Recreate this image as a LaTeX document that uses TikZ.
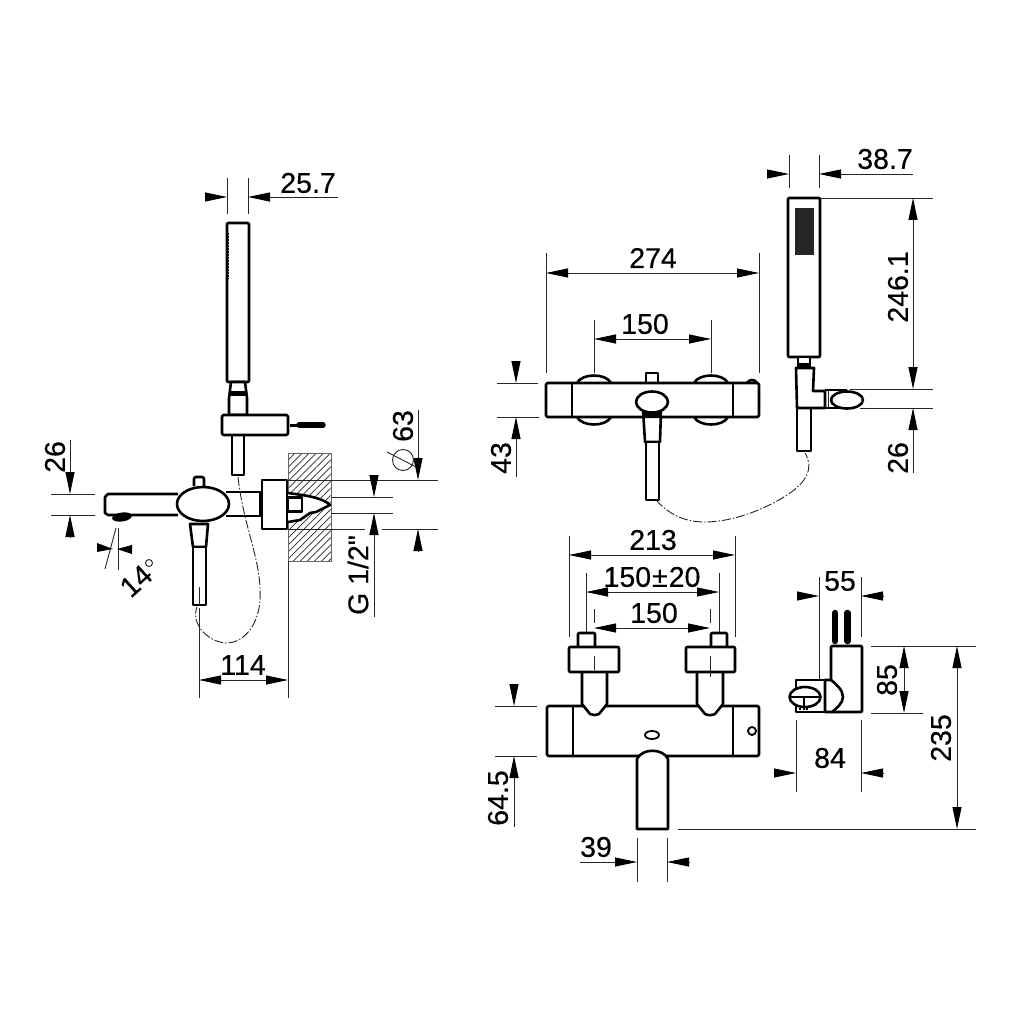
\documentclass[tikz,border=0pt]{standalone}
\usepackage{fontspec}
\setmainfont{Liberation Sans}[FakeBold=0.35,Ligatures=TeXOff]
\usetikzlibrary{arrows.meta,patterns.meta}
\tikzset{
  part/.style={draw=black,line width=2.6pt,line join=round,fill=white},
  edge/.style={draw=black,line width=2.6pt,line join=round},
  thinline/.style={draw=black!85,line width=.9pt},
  dimarrow/.style={thinline,-{Triangle[length=22pt,width=9pt,fill=black,color=black]}},
  hose/.style={draw=black!85,line width=.9pt,dash pattern=on 9pt off 2pt on 1.5pt off 2pt},
  dimtext/.style={font=\fontsize{28.5}{28.5}\selectfont,inner sep=0pt,text=black},
  updim/.style={dimtext,rotate=90}
}
\begin{document}
\begin{tikzpicture}[x=1pt,y=-1pt]
  \useasboundingbox[fill=white] (0,0) rectangle (1024,1024);

  % side view, wall
  \path[pattern={Lines[angle=45,distance=5pt,line width=.7pt]},pattern color=black!85] (288,453) rectangle (331,561);
  \draw[thinline,draw=black!60] (288,453) rectangle (331,561);
  \draw[thinline] (288,561) -- (288,698);
  \draw[part] (288,493) -- (302,495) .. controls (315,497) and (325,500) .. (330,505) -- (316,512) -- (310,513) -- (300,520) -- (288,522);
  \draw[part] (288,497.5) rectangle (302,511.5);
  \draw[thinline] (288,480) -- (438,480);
  \draw[thinline] (331,497) -- (393,497);
  \draw[thinline] (331,513) -- (393,513);
  \draw[thinline] (288,529) -- (365,529);
  \draw[thinline] (382,529) -- (438,529);

  % side view, hand shower
  \draw[part,rounded corners=1pt] (227,223) rectangle (249,382);
  \draw[black,line width=3.5pt,dash pattern=on 1.6pt off 1.4pt] (227.5,233) -- (227.5,279);
  \draw[part] (231,382) -- (245,382) -- (247,398) -- (247,415) -- (229,415) -- (229,398) -- cycle;
  \fill (229,391) rectangle (247,396);
  \draw[part] (232,435) -- (232,475) -- (244,475) -- (244,435);
  \draw[part,rounded corners=1.5pt] (222,415) rectangle (288,435);
  \draw[black,line width=3pt] (290,425) -- (300,425);
  \draw[black,line width=5.5pt,line cap=round] (299,425) -- (323,425);

  % side view, mixer
  \draw[edge] (178,494) -- (108,494) -- (105,497) -- (105,513) -- (108,515) -- (178,515);
  \draw[edge] (226,492) -- (260,492);
  \draw[edge] (226,516) -- (260,516);
  \fill[rotate around={8:(122,517)}] (122,517) ellipse (10pt and 4.5pt);
  \fill (259,491) rectangle (263,517);
  \draw[part] (262,480) rectangle (287,529);
  \draw[part,rounded corners=2pt] (194,486) -- (194,477) -- (204,477) -- (204,486);
  \draw[part] (203,504) ellipse (26pt and 17pt);
  \draw[part] (190,524) -- (208,524) -- (206,547) -- (193,547) -- cycle;
  \draw[part] (193,547) rectangle (206,605);
  \draw[thinline] (199.5,587) -- (199.5,605);
  \draw[hose] (238,477) .. controls (244,530) and (262,560) .. (260,600) .. controls (258,630) and (240,643) .. (227,643) .. controls (210,643) and (190,625) .. (197,607);

  % side view, dimensions
  \draw[thinline] (227,178) -- (227,214);
  \draw[thinline] (248,178) -- (248,214);
  \draw[dimarrow] (206,197) -- (227,197);
  \draw[dimarrow] (338,197) -- (248,197);
  \node[dimtext] (sideTop) at (308,183) {25.7};
  \draw[thinline] (51,494) -- (95,494);
  \draw[thinline] (51,515) -- (95,515);
  \draw[dimarrow] (70,440) -- (70,494);
  \draw[dimarrow] (70,537) -- (70,515);
  \node[updim] (sideSpout) at (55,457) {26};
  \draw[thinline] (118,528) -- (118,570);
  \draw[thinline] (116,528) -- (105,569);
  \fill (97,543) -- (113,549) -- (97,552) -- cycle;
  \fill (132,545) -- (117,549) -- (132,554) -- cycle;
  \node[dimtext,rotate=42] (sideAngle) at (136,581) {14};
  \draw[thinline] (149,563) circle (3.5pt);
  \draw[thinline] (199,608) -- (199,698);
  \draw[dimarrow] (243,680) -- (199,680);
  \draw[dimarrow] (243,680) -- (288,680);
  \node[dimtext] (sideReach) at (243,665) {114};
  \draw[dimarrow] (374,475) -- (374,497);
  \draw[dimarrow] (374,617) -- (374,513);
  \node[updim] (sideThread) at (358,575) {G 1/2"};
  \draw[dimarrow] (418,410) -- (418,480);
  \draw[dimarrow] (418,551) -- (418,529);
  \node[updim] (sideFlange) at (403,426) {63};
  \node[circle,draw=black!85,line width=.9pt,minimum size=21pt,inner sep=0pt] (sideDia) at (403,460) {};
  \draw[thinline] (387,452) -- (416,467);

  % front view, mixer
  \draw[part] (577,383) .. controls (582,373) and (606,373) .. (611,383);
  \draw[part] (694,383) .. controls (699,373) and (723,373) .. (728,383);
  \draw[part] (577,417) .. controls (582,427) and (606,427) .. (611,417);
  \draw[part] (694,417) .. controls (699,427) and (723,427) .. (728,417);
  \draw[part] (747,383) .. controls (749,379) and (755,379) .. (757,383);
  \draw[part] (646,383) -- (646,373) -- (658,373) -- (658,383);
  \draw[part,rounded corners=1.5pt] (546,383) rectangle (759,417);
  \draw[edge] (572,383) -- (572,417);
  \draw[edge] (733,383) -- (733,417);
  \draw[part] (643,410) -- (661,410) -- (660,442) -- (645,442) -- cycle;
  \fill (643,410) -- (661,410) -- (660,418) -- (644,418) -- cycle;
  \draw[part] (646,442) rectangle (659,500);
  \draw[part] (652,402) ellipse (16pt and 10.5pt);

  % front view, hand shower
  \draw[part,rounded corners=1pt] (788,198) rectangle (820,357);
  \fill[black!85] (795,208) rectangle (814,255);
  \draw[part] (798,357) rectangle (810,368);
  \fill (798,363) rectangle (810,368);
  \draw[part] (797,408) rectangle (811,451);
  \draw[part] (796,368) -- (814,368) -- (813,391) -- (825,391) -- (825,408) -- (797,408) -- cycle;
  \draw[edge] (825,390) -- (847,390);
  \draw[edge] (825,408) -- (847,408);
  \draw[thinline] (828,391) -- (828,407);
  \draw[part] (847,400) ellipse (16pt and 8.5pt);
  \draw[hose] (656,500) .. controls (672,518) and (690,522) .. (705,522) .. controls (735,522) and (770,507) .. (790,493) .. controls (804,483) and (815,470) .. (805,453);

  % front view, dimensions
  \draw[thinline] (546,253) -- (546,373);
  \draw[thinline] (759,253) -- (759,373);
  \draw[dimarrow] (653,273) -- (546,273);
  \draw[dimarrow] (653,273) -- (759,273);
  \node[dimtext] (frontWidth) at (653,258) {274};
  \draw[thinline] (594,320) -- (594,373);
  \draw[thinline] (711,320) -- (711,373);
  \draw[dimarrow] (652,339) -- (594,339);
  \draw[dimarrow] (652,339) -- (711,339);
  \node[dimtext] (frontAxis) at (645,324) {150};
  \draw[thinline] (497,383) -- (538,383);
  \draw[thinline] (497,417) -- (539,417);
  \draw[dimarrow] (516,362) -- (516,383);
  \draw[dimarrow] (516,477) -- (516,417);
  \node[updim] (frontBody) at (501,458) {43};
  \draw[thinline] (789,155) -- (789,188);
  \draw[thinline] (819,155) -- (819,188);
  \draw[dimarrow] (767,174) -- (789,174);
  \draw[dimarrow] (913,174) -- (819,174);
  \node[dimtext] (frontHead) at (885,159) {38.7};
  \draw[thinline] (820,198) -- (933,198);
  \draw[thinline] (850,389) -- (933,389);
  \draw[thinline] (860,408) -- (933,408);
  \draw[dimarrow] (913,290) -- (913,198);
  \draw[dimarrow] (913,290) -- (913,389);
  \node[updim] (frontLength) at (898,287) {246.1};
  \draw[dimarrow] (913,473) -- (913,408);
  \node[updim] (frontKnob) at (898,458) {26};

  % top view, mixer
  \draw[part,rounded corners=1.5pt] (547,706) rectangle (759,756);
  \draw[part] (582,672) -- (582,704) -- (590,714) .. controls (593,715.5) and (596,715.5) .. (599,714) -- (607,704) -- (607,672);
  \draw[part] (697,672) -- (697,704) -- (705,714) .. controls (708,715.5) and (712,715.5) .. (715,714) -- (723,704) -- (723,672);
  \draw[part,rounded corners=1pt] (578,646) -- (578,633) -- (595,633) -- (595,646);
  \draw[part,rounded corners=1pt] (711,646) -- (711,633) -- (727,633) -- (727,646);
  \draw[part,rounded corners=1pt] (569,647) rectangle (619,672);
  \draw[part,rounded corners=1pt] (686,647) rectangle (735,672);
  \draw[edge] (573,706) -- (573,756);
  \draw[edge] (733,706) -- (733,756);
  \draw[part,line width=1.8pt] (752,731) circle (4pt);
  \draw[part,line width=1.8pt] (652,735) ellipse (7pt and 4pt);
  \draw[part] (637,759) .. controls (642,748) and (663,748) .. (668,759) -- (668,829) -- (637,829) -- cycle;
  \draw[edge] (547,756) -- (640,756);

  % top view, bracket
  \draw[black,line width=6.5pt,line cap=round] (835,613) -- (835,641);
  \draw[black,line width=6.5pt,line cap=round] (847.5,613) -- (847.5,641);
  \draw[part,rounded corners=1pt] (831,646) -- (862,646) -- (862,712) -- (831,712) -- cycle;
  \draw[part] (796,680) -- (825,680) -- (825,712) -- (796,712) -- cycle;
  \draw[part] (825,680) -- (831,680) .. controls (836,684) and (843,690) .. (843,697) .. controls (843,703) and (836,709) .. (832,712) -- (825,712) -- cycle;
  \draw[part] (805,697) ellipse (15.5pt and 10pt);
  \draw[edge,line width=1.4pt] (790,697) -- (820,697);
  \draw[edge,line width=1.4pt] (804,697) -- (804,707);
  \draw[black,line width=2pt,dash pattern=on 2pt off 1.5pt] (799,709) -- (809,709);

  % top view, dimensions
  \draw[thinline] (569,536) -- (569,637);
  \draw[thinline] (735,536) -- (735,637);
  \draw[dimarrow] (652,555) -- (569,555);
  \draw[dimarrow] (652,555) -- (735,555);
  \node[dimtext] (topWidth) at (653,540) {213};
  \draw[thinline] (586,573) -- (586,632);
  \draw[thinline] (719,573) -- (719,632);
  \draw[dimarrow] (652,592) -- (586,592);
  \draw[dimarrow] (652,592) -- (719,592);
  \node[dimtext] (topRange) at (652,577) {150\kern1pt±\kern1pt20};
  \draw[thinline] (594,609) -- (594,623);
  \draw[thinline] (710,609) -- (710,623);
  \draw[thinline] (594,656) -- (594,670);
  \draw[thinline] (710,656) -- (710,677);
  \draw[dimarrow] (652,628) -- (594,628);
  \draw[dimarrow] (652,628) -- (710,628);
  \node[dimtext] (topAxis) at (654,613) {150};
  \draw[thinline] (495,706) -- (537,706);
  \draw[thinline] (495,756) -- (537,756);
  \draw[dimarrow] (514,685) -- (514,706);
  \draw[dimarrow] (514,827) -- (514,756);
  \node[updim] (topBody) at (498,798) {64.5};
  \draw[thinline] (637,838) -- (637,882);
  \draw[thinline] (667,838) -- (667,882);
  \draw[dimarrow] (580,862) -- (637,862);
  \draw[dimarrow] (689,862) -- (667,862);
  \node[dimtext] (topSpout) at (596,847) {39};
  \draw[thinline] (819,577) -- (819,680);
  \draw[thinline] (861,577) -- (861,637);
  \draw[dimarrow] (797,596) -- (819,596);
  \draw[dimarrow] (883,596) -- (861,596);
  \node[dimtext] (topBlock) at (840,581) {55};
  \draw[thinline] (796,720) -- (796,792);
  \draw[thinline] (861,720) -- (861,792);
  \draw[dimarrow] (774,773) -- (796,773);
  \draw[dimarrow] (883,773) -- (861,773);
  \node[dimtext] (topDepth) at (830,758) {84};
  \draw[thinline] (871,646) -- (976,646);
  \draw[thinline] (871,713) -- (923,713);
  \draw[thinline] (678,829) -- (976,829);
  \draw[dimarrow] (904,680) -- (904,646);
  \draw[dimarrow] (904,680) -- (904,713);
  \node[updim] (topBlockH) at (887,680) {85};
  \draw[dimarrow] (957,738) -- (957,646);
  \draw[dimarrow] (957,738) -- (957,829);
  \node[updim] (topHeight) at (941,738) {235};
\end{tikzpicture}
\end{document}
